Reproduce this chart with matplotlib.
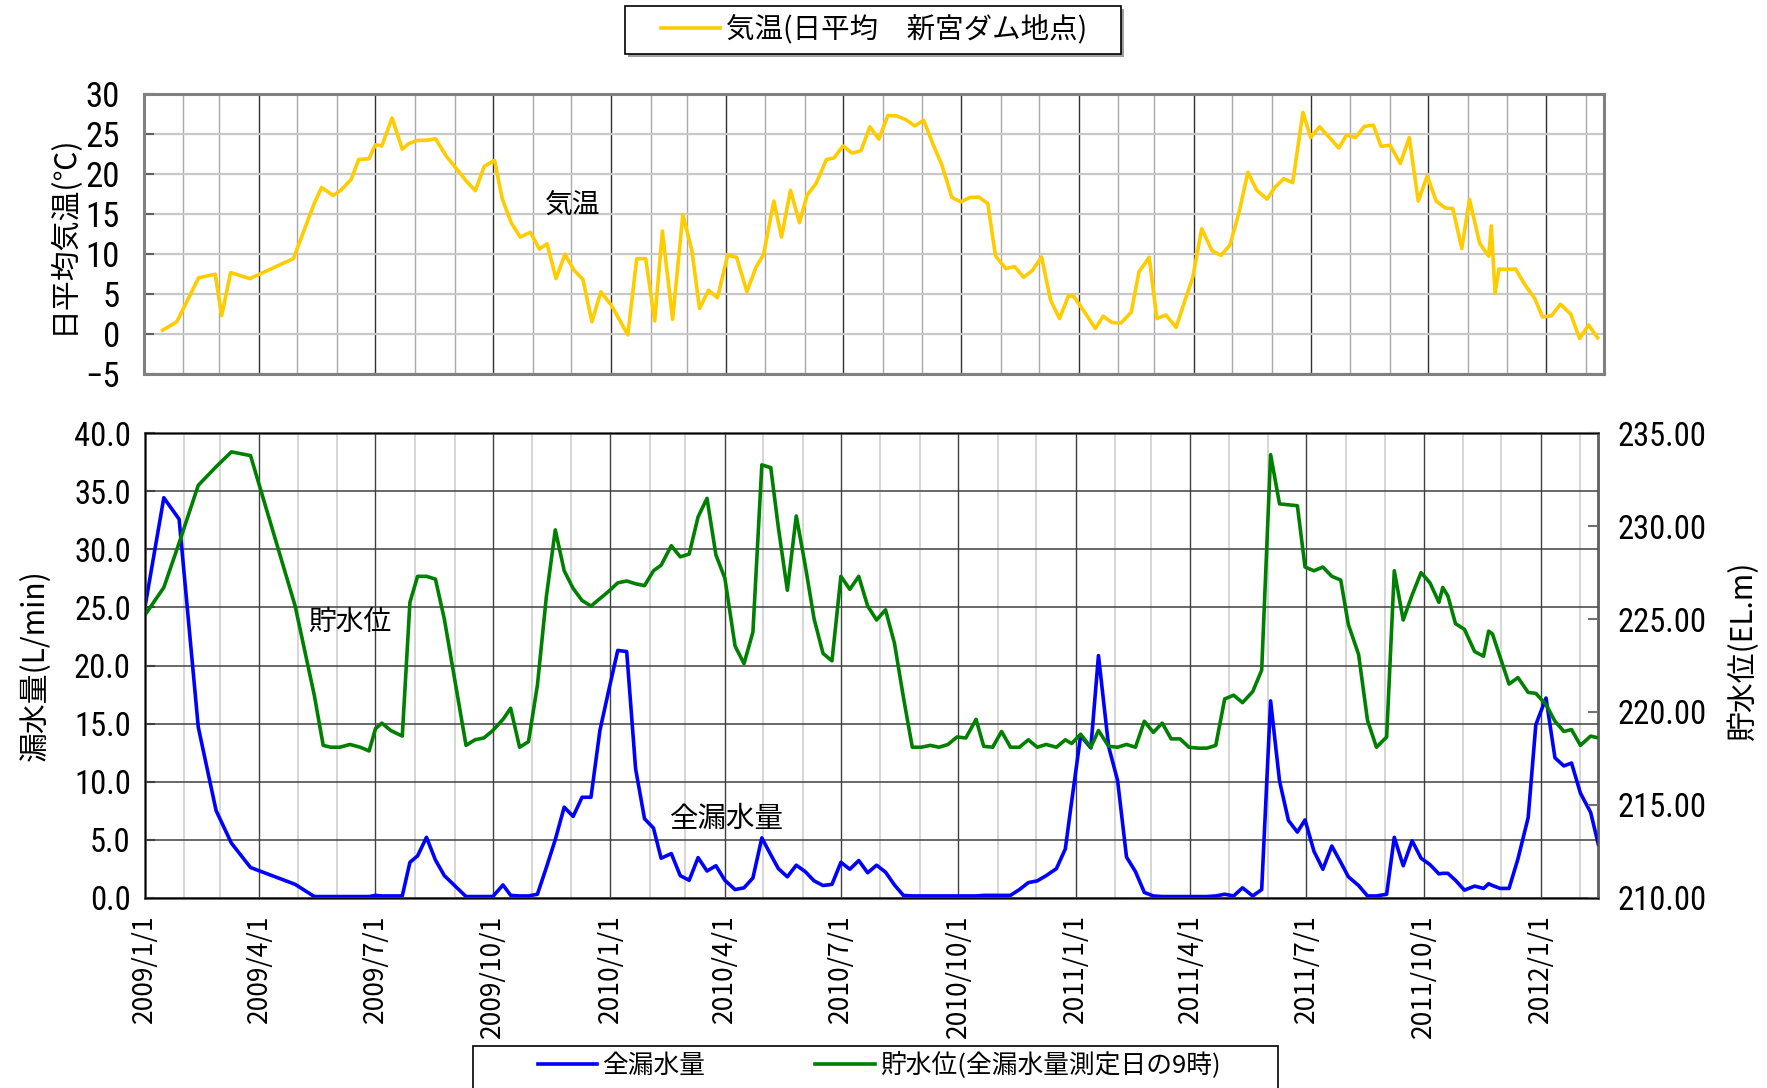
import matplotlib
matplotlib.use('Agg')
import matplotlib.pyplot as plt
from matplotlib import font_manager
from matplotlib.patches import Rectangle
import pandas as pd

plt.rcParams['font.family'] = ['Noto Sans CJK JP', 'DejaVu Sans']

# the numbers in the original are in a narrow face; use one if installed
installed = {f.name for f in font_manager.fontManager.ttflist}
narrow = [n for n in ['Liberation Sans Narrow', 'Noto Sans Condensed', 'DejaVu Sans Condensed',
                      'Roboto Condensed', 'Open Sans Condensed'] if n in installed]
if narrow:
    num_font = [narrow[0], 'DejaVu Sans']
    num_size = 23.5
else:
    num_font = ['Liberation Sans', 'DejaVu Sans']
    num_size = 20.5

start = pd.Timestamp('2009-01-01')
end = start + pd.Timedelta(days=1140)

# 気温 : days since 2009/1/1, daily mean (deg C)
temp_days = [15, 26, 43, 56, 61, 68, 83, 117, 133, 139,
             148, 154, 162, 168, 176, 181, 186, 194, 202, 207,
             214, 221, 228, 236, 243, 252, 259, 266, 274, 280,
             287, 294, 302, 309, 315, 322, 329, 336, 343, 350,
             357, 365, 371, 378, 385, 392, 399, 405, 413, 421,
             428, 434, 441, 448, 456, 463, 471, 478, 484, 492,
             498, 505, 512, 518, 525, 533, 539, 546, 553, 560,
             567, 574, 581, 588, 595, 602, 609, 616, 623, 631,
             638, 645, 652, 659, 665, 673, 680, 687, 694, 701,
             708, 715, 722, 726, 735, 743, 749, 756, 763, 771,
             777, 785, 791, 798, 806, 813, 819, 826, 834, 841,
             848, 855, 862, 869, 877, 883, 890, 897, 905, 911,
             918, 926, 933, 939, 946, 953, 960, 966, 973, 981,
             988, 995, 1002, 1009, 1016, 1022, 1029, 1035, 1043, 1050,
             1052, 1055, 1058, 1064, 1071, 1078, 1086, 1092, 1099, 1106,
             1114, 1121, 1128, 1135]
temp_vals = [0.45, 1.5, 7.0, 7.45, 2.25, 7.65, 6.9, 9.4, 16.2, 18.3,
             17.3, 17.95, 19.3, 21.8, 21.9, 23.65, 23.5, 27.0, 23.1, 23.8,
             24.2, 24.2, 24.4, 22.3, 20.9, 19.1, 17.9, 20.95, 21.7, 16.9,
             13.9, 12.1, 12.7, 10.6, 11.25, 6.9, 9.95, 7.95, 6.8, 1.5,
             5.25, 3.6, 1.9, -0.15, 9.4, 9.4, 1.6, 12.85, 1.8, 14.9,
             10.45, 3.15, 5.45, 4.5, 9.85, 9.55, 5.25, 8.3, 9.9, 16.6,
             12.1, 17.95, 13.9, 17.35, 18.8, 21.8, 22.0, 23.5, 22.6, 22.9,
             25.9, 24.35, 27.3, 27.25, 26.8, 26.0, 26.7, 23.8, 21.2, 17.05,
             16.5, 17.05, 17.1, 16.3, 9.75, 8.15, 8.4, 7.05, 7.95, 9.6,
             4.2, 1.9, 4.75, 4.7, 2.6, 0.65, 2.2, 1.4, 1.35, 2.7,
             7.75, 9.55, 1.9, 2.35, 0.8, 4.2, 7.05, 13.15, 10.4, 9.8,
             11.1, 15.1, 20.2, 17.95, 16.85, 18.3, 19.4, 18.9, 27.7, 24.55,
             25.9, 24.5, 23.25, 24.85, 24.55, 25.95, 26.1, 23.45, 23.6, 21.3,
             24.55, 16.6, 19.75, 16.6, 15.75, 15.65, 10.65, 16.8, 11.3, 9.7,
             13.5, 5.05, 8.1, 8.05, 8.1, 6.2, 4.4, 2.1, 2.25, 3.7,
             2.45, -0.6, 1.1, -0.5]

# 全漏水量 (L/min) and 貯水位 (EL.m) on the measurement days
meas_days = [0, 15, 27, 42, 56, 68, 83, 118, 133, 140,
             146, 153, 161, 169, 176, 181, 186, 193, 202, 208,
             214, 221, 228, 235, 252, 259, 266, 273, 281, 287,
             294, 301, 308, 315, 322, 329, 336, 343, 350, 357,
             364, 371, 378, 385, 392, 399, 405, 413, 420, 427,
             434, 441, 448, 455, 463, 470, 477, 484, 491, 497,
             504, 511, 518, 525, 532, 539, 546, 553, 560, 567,
             574, 581, 588, 595, 602, 609, 616, 623, 630, 637,
             644, 652, 658, 665, 672, 679, 686, 693, 700, 707,
             715, 722, 727, 734, 742, 748, 756, 763, 770, 777,
             784, 791, 798, 805, 812, 819, 826, 833, 840, 847,
             854, 861, 869, 876, 883, 890, 897, 904, 910, 917,
             924, 931, 938, 944, 952, 959, 966, 974, 980, 987,
             994, 1001, 1008, 1015, 1018, 1022, 1028, 1035, 1043, 1050,
             1054, 1057, 1063, 1070, 1077, 1085, 1091, 1099, 1106, 1113,
             1119, 1126, 1134, 1140]
leak_vals = [24.9, 34.45, 32.6, 14.7, 7.5, 4.7, 2.6, 1.15, 0.1, 0.1,
             0.1, 0.1, 0.1, 0.1, 0.1, 0.2, 0.15, 0.15, 0.15, 3.05,
             3.6, 5.2, 3.25, 1.9, 0.1, 0.1, 0.1, 0.1, 1.1, 0.2,
             0.15, 0.15, 0.3, 2.6, 5.0, 7.8, 7.0, 8.65, 8.65, 14.4,
             17.9, 21.3, 21.2, 11.1, 6.8, 6.0, 3.4, 3.8, 1.9, 1.5,
             3.45, 2.3, 2.75, 1.5, 0.7, 0.85, 1.7, 5.15, 3.7, 2.5,
             1.8, 2.8, 2.25, 1.45, 1.05, 1.15, 3.05, 2.45, 3.2, 2.15,
             2.8, 2.2, 1.1, 0.2, 0.15, 0.15, 0.15, 0.15, 0.15, 0.15,
             0.15, 0.15, 0.2, 0.2, 0.2, 0.2, 0.7, 1.3, 1.45, 1.9,
             2.5, 4.2, 8.3, 13.95, 12.9, 20.85, 13.0, 10.1, 3.5, 2.25,
             0.45, 0.15, 0.1, 0.1, 0.1, 0.1, 0.1, 0.1, 0.15, 0.3,
             0.15, 0.85, 0.15, 0.7, 16.95, 10.05, 6.65, 5.65, 6.7, 4.0,
             2.45, 4.45, 3.05, 1.8, 1.05, 0.15, 0.15, 0.3, 5.2, 2.75,
             4.9, 3.4, 2.85, 2.05, 2.1, 2.1, 1.5, 0.65, 1.0, 0.8,
             1.2, 1.05, 0.8, 0.8, 3.35, 6.9, 14.9, 17.2, 12.05, 11.35,
             11.6, 9.0, 7.35, 4.6]
level_vals = [225.2, 226.7, 229.1, 232.2, 233.2, 234.0, 233.8, 225.7, 220.9, 218.2,
              218.1, 218.1, 218.25, 218.1, 217.9, 219.1, 219.4, 219.0, 218.7, 225.9,
              227.3, 227.3, 227.15, 225.0, 218.2, 218.5, 218.6, 219.0, 219.6, 220.2,
              218.1, 218.4, 221.45, 226.2, 229.8, 227.6, 226.65, 226.0, 225.7, 226.1,
              226.5, 226.95, 227.05, 226.9, 226.8, 227.6, 227.9, 228.95, 228.35, 228.5,
              230.5, 231.5, 228.45, 227.2, 223.55, 222.6, 224.3, 233.3, 233.15, 229.9,
              226.55, 230.55, 227.9, 225.0, 223.15, 222.75, 227.3, 226.6, 227.3, 225.7,
              224.95, 225.5, 223.7, 220.8, 218.1, 218.1, 218.2, 218.1, 218.25, 218.65,
              218.6, 219.6, 218.15, 218.1, 218.95, 218.1, 218.1, 218.5, 218.1, 218.25,
              218.1, 218.5, 218.3, 218.8, 218.1, 219.0, 218.15, 218.1, 218.25, 218.1,
              219.5, 218.9, 219.4, 218.55, 218.55, 218.1, 218.05, 218.05, 218.2, 220.7,
              220.9, 220.5, 221.1, 222.25, 233.85, 231.2, 231.15, 231.1, 227.8, 227.6,
              227.8, 227.3, 227.1, 224.7, 223.1, 219.55, 218.1, 218.65, 227.6, 224.95,
              226.3, 227.5, 226.95, 225.9, 226.7, 226.25, 224.75, 224.45, 223.25, 223.0,
              224.35, 224.2, 222.95, 221.5, 221.85, 221.05, 221.0, 220.4, 219.5, 218.95,
              219.05, 218.2, 218.7, 218.6]

temp_ticks = [-5, 0, 5, 10, 15, 20, 25, 30]
leak_ticks = [0, 5, 10, 15, 20, 25, 30, 35, 40]
level_ticks = [210, 215, 220, 225, 230, 235]

temp_dates = start + pd.to_timedelta(temp_days, unit='D')
meas_dates = start + pd.to_timedelta(meas_days, unit='D')
quarters = pd.date_range(start, '2012-01-01', freq='QS')
months = pd.date_range(start, end, freq='MS')

W, H = 1767, 1088
fig = plt.figure(figsize=(W / 100, H / 100), dpi=100)

# ---- upper panel : air temperature
ax_t = fig.add_axes([143.5 / W, 1 - 373.7 / H, 1460.5 / W, 279.7 / H])
ax_t.plot(temp_dates, temp_vals, color='#ffcc00', lw=2.6, label='気温(日平均\u3000新宮ダム地点)')
ax_t.set_xlim(start, end)
ax_t.set_ylim(-5, 30)
ax_t.set_xticks(quarters)
ax_t.set_xticks(months, minor=True)
ax_t.set_xticklabels([])
ax_t.tick_params(axis='x', which='both', length=0)
ax_t.set_yticks(temp_ticks)
ax_t.set_yticklabels([str(t).replace('-', '\u2212') for t in temp_ticks], family=num_font,
                     fontsize=num_size + 1.5)
ax_t.tick_params(axis='y', direction='in', length=7, width=1.5, color='#606060', pad=17)
ax_t.grid(axis='y', color='#c8c8c8', lw=1.6)
ax_t.grid(axis='x', which='minor', color='#a8a8a8', lw=1.0)
ax_t.grid(axis='x', which='major', color='#303030', lw=1.0)
ax_t.set_axisbelow(True)
for s in ax_t.spines.values():
    s.set_color('#808080')
    s.set_linewidth(2.2)
ax_t.set_ylabel('日平均気温(℃)', fontsize=21.5)
ax_t.yaxis.set_label_coords(-0.044, 0.5)
ax_t.text(0.294, 0.603, '気温', transform=ax_t.transAxes, fontsize=20, ha='center', va='center')

# ---- lower panel : leakage and reservoir level
ax_b = fig.add_axes([144.7 / W, 1 - 897.7 / H, 1453.6 / W, 464.4 / H])
ax_b.plot(meas_dates, leak_vals, color='#0000ff', lw=2.6, label='全漏水量')
ax_b.set_xlim(start, end)
ax_b.set_ylim(0, 40)
ax_b.set_xticks(quarters)
ax_b.set_xticklabels([f'{d.year}/{d.month}/{d.day}' for d in quarters], rotation=90, fontsize=19)
ax_b.set_xticks(months, minor=True)
ax_b.tick_params(axis='x', which='both', length=0, pad=12)
ax_b.set_yticks(leak_ticks)
ax_b.set_yticklabels([f'{v:.1f}' for v in leak_ticks], family=num_font, fontsize=num_size)
ax_b.tick_params(axis='y', direction='in', length=7, width=1.5, color='#404040', pad=10)
ax_b.grid(axis='y', color='#404040', lw=1.1)
ax_b.grid(axis='x', which='minor', color='#d0d0d0', lw=1.2)
ax_b.grid(axis='x', which='major', color='#404040', lw=1.0)
ax_b.set_axisbelow(True)
for s in ax_b.spines.values():
    s.set_color('#404040')
    s.set_linewidth(1.8)
ax_b.set_ylabel('漏水量(L/min)', fontsize=21.5)
ax_b.yaxis.set_label_coords(-0.0645, 0.5)
ax_b.text(0.1412, 0.594, '貯水位', transform=ax_b.transAxes, fontsize=20, ha='center', va='center')
ax_b.text(0.4006, 0.1695, '全漏水量', transform=ax_b.transAxes, fontsize=20.5, ha='center', va='center')

ax_r = ax_b.twinx()
ax_r.plot(meas_dates, level_vals, color='#008000', lw=2.6, label='貯水位(全漏水量測定日の9時)')
ax_r.set_ylim(210, 235)
ax_r.set_yticks(level_ticks)
ax_r.set_yticklabels([f'{v:.2f}' for v in level_ticks], family=num_font, fontsize=num_size)
ax_r.tick_params(axis='y', direction='in', length=7, width=1.5, color='#707070', pad=14)
ax_r.spines['right'].set_color('#606060')
ax_r.set_ylabel('貯水位(EL.m)', fontsize=21.5)
ax_r.yaxis.set_label_coords(1.089, 0.53)

# ---- legends
h, l = ax_t.get_legend_handles_labels()
fig.legend(h, l, loc='center', bbox_to_anchor=(874 / W, 1 - 30 / H), frameon=False,
           fontsize=20.5, handlelength=2.1, handletextpad=0.2)
fig.add_artist(Rectangle((628 / W, 1 - 57 / H), 496 / W, 48 / H, transform=fig.transFigure,
                         facecolor='#a0a0a0', edgecolor='none', zorder=0))
fig.add_artist(Rectangle((625 / W, 1 - 54 / H), 496 / W, 48 / H, transform=fig.transFigure,
                         facecolor='white', edgecolor='black', lw=1.2, zorder=0.5))

handles = [ax_b.get_lines()[0], ax_r.get_lines()[0]]
fig.legend(handles, [x.get_label() for x in handles], loc='center', bbox_to_anchor=(879 / W, 1 - 1066 / H),
           ncol=2, frameon=False, fontsize=18.5, handlelength=2.3, handletextpad=0.2, columnspacing=4.3)
fig.add_artist(Rectangle((473 / W, -0.05), 805 / W, 0.05 + 1 - 1046 / H, transform=fig.transFigure,
                         fill=False, edgecolor='black', lw=1.2))

fig.savefig('out.png', dpi=100)
